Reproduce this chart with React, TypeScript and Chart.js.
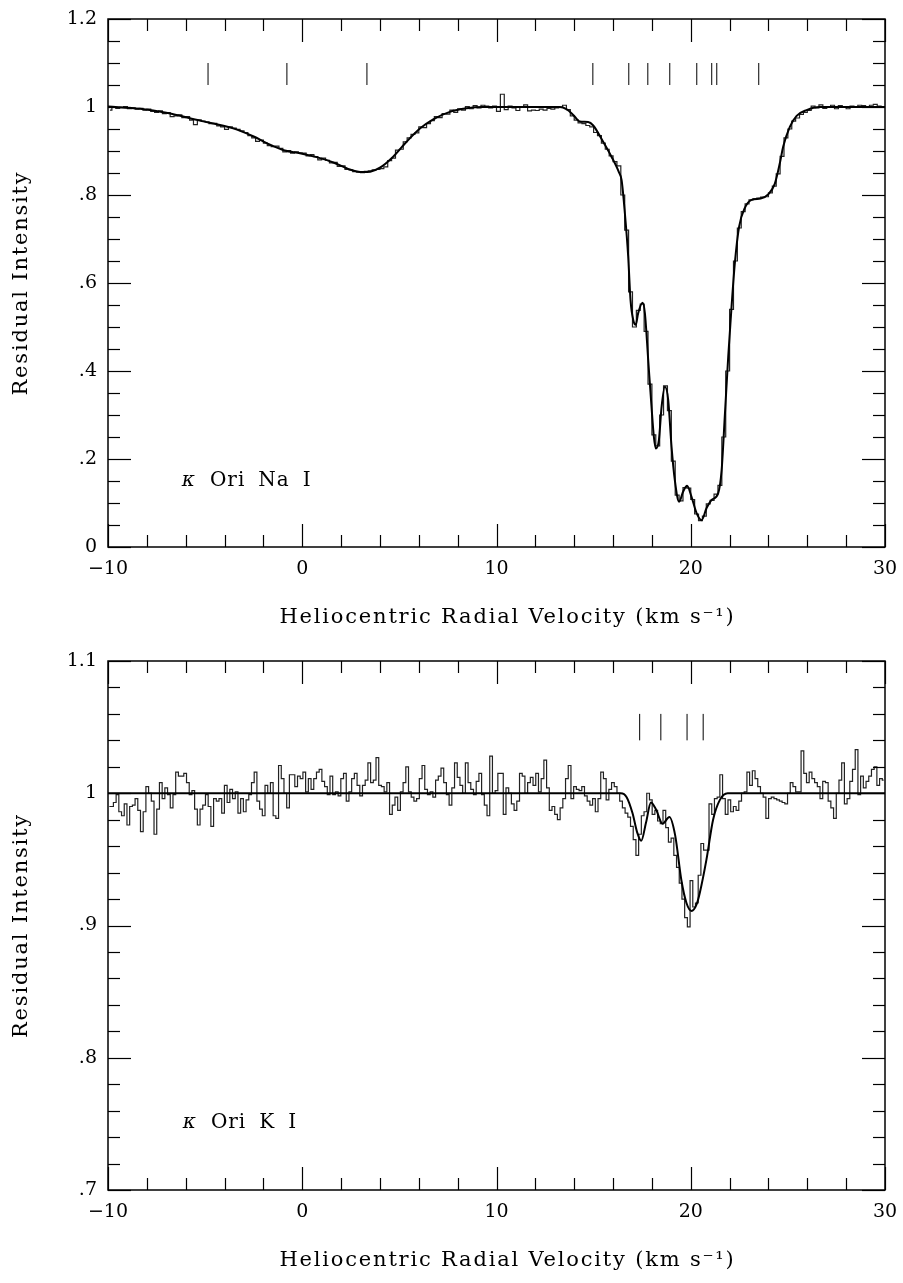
import React, { useEffect, useRef } from "react";
import { Chart, registerables } from "chart.js";

Chart.register(...registerables);

// ---- shared velocity axis -------------------------------------------------
const VEL_MIN = -10;
const VEL_MAX = 30;
const X_MAJOR = [-10, 0, 10, 20, 30];
const X_LABELS = ["\u221210", "0", "10", "20", "30"];
const X_MINOR = [-8, -6, -4, -2, 2, 4, 6, 8, 12, 14, 16, 18, 22, 24, 26, 28];
const X_TITLE = "Heliocentric Radial Velocity (km s\u207B\u00B9)";
const Y_TITLE = "Residual Intensity";

// ---- Na I panel -----------------------------------------------------------
const NA_Y_MAJOR = [0, 0.2, 0.4, 0.6, 0.8, 1.0, 1.2];
const NA_Y_LABELS = ["0", ".2", ".4", ".6", ".8", "1", "1.2"];
const NA_Y_MINOR = [0.05, 0.1, 0.15, 0.25, 0.3, 0.35, 0.45, 0.5, 0.55, 0.65, 0.7, 0.75, 0.85, 0.9, 0.95, 1.05, 1.1, 1.15];

// observed residual intensity, 200 equal velocity bins from -10 to +30 km/s
const NA_OBS = [
  0.993, 0.999, 0.997, 0.999, 1.001, 0.996, 0.998, 0.995, 0.997, 0.993,
  0.995, 0.990, 0.988, 0.991, 0.985, 0.987, 0.978, 0.980, 0.982, 0.976,
  0.978, 0.970, 0.960, 0.971, 0.968, 0.966, 0.962, 0.963, 0.957, 0.955,
  0.949, 0.955, 0.952, 0.949, 0.946, 0.942, 0.935, 0.930, 0.922, 0.925,
  0.918, 0.912, 0.910, 0.911, 0.906, 0.898, 0.901, 0.895, 0.898, 0.896,
  0.895, 0.889, 0.892, 0.887, 0.880, 0.884, 0.879, 0.873, 0.874, 0.865,
  0.866, 0.858, 0.857, 0.853, 0.852, 0.851, 0.854, 0.855, 0.857, 0.858,
  0.860, 0.864, 0.878, 0.884, 0.902, 0.904, 0.921, 0.930, 0.938, 0.941,
  0.955, 0.953, 0.962, 0.969, 0.978, 0.976, 0.985, 0.984, 0.993, 0.988,
  0.996, 0.993, 1.001, 0.996, 1.003, 0.998, 1.004, 1.002, 0.998, 1.002,
  0.990, 1.029, 0.994, 1.002, 0.998, 0.992, 1.001, 1.005, 0.991, 0.993,
  0.992, 0.995, 0.993, 0.997, 0.995, 0.998, 1.000, 1.004, 0.994, 0.980,
  0.970, 0.964, 0.962, 0.958, 0.955, 0.942, 0.935, 0.918, 0.904, 0.889,
  0.876, 0.866, 0.800, 0.720, 0.580, 0.500, 0.538, 0.552, 0.490, 0.370,
  0.255, 0.230, 0.300, 0.366, 0.310, 0.195, 0.118, 0.105, 0.135, 0.134,
  0.108, 0.075, 0.060, 0.070, 0.098, 0.106, 0.120, 0.140, 0.250, 0.400,
  0.540, 0.650, 0.725, 0.762, 0.780, 0.789, 0.791, 0.793, 0.795, 0.796,
  0.805, 0.820, 0.848, 0.888, 0.930, 0.950, 0.968, 0.975, 0.983, 0.988,
  0.992, 1.002, 0.998, 1.005, 0.997, 1.000, 1.004, 0.996, 1.003, 1.001,
  0.996, 1.002, 0.999, 1.004, 1.003, 0.999, 1.004, 1.006, 1.002, 1.001,
];

// multi-component profile fit
const NA_FIT_V = [
  -10, -8.35, -7, -5.27, -3.6, -2.5, -1.83, -0.9, -0.12, 0.74,
  1.6, 2.45, 3.1, 3.5, 4.0, 4.68, 5.37, 6.06, 6.74, 7.6,
  8.46, 9.3, 13.26, 13.6, 13.95, 14.29, 14.72, 14.98, 15.49, 15.92,
  16.3, 16.44, 16.61, 16.78, 16.9, 17.04, 17.17, 17.29, 17.52, 17.64,
  17.81, 17.98, 18.1, 18.2, 18.36, 18.5, 18.67, 18.84, 19.01, 19.18,
  19.4, 19.61, 19.81, 20.04, 20.3, 20.56, 20.81, 21.07, 21.41, 21.59,
  21.76, 21.93, 22.1, 22.27, 22.49, 22.78, 23.13, 23.6, 24.0, 24.33,
  24.6, 24.76, 25.1, 25.45, 25.96, 26.64, 30,
];
const NA_FIT_I = [
  1.001, 0.996, 0.987, 0.969, 0.952, 0.933, 0.918, 0.901, 0.895, 0.886,
  0.874, 0.858, 0.852, 0.853, 0.862, 0.887, 0.921, 0.951, 0.972, 0.989,
  0.997, 1.0, 1.0, 0.995, 0.982, 0.967, 0.966, 0.958, 0.921, 0.887,
  0.852, 0.834, 0.758, 0.660, 0.561, 0.516, 0.505, 0.531, 0.555, 0.531,
  0.425, 0.319, 0.251, 0.224, 0.243, 0.319, 0.364, 0.334, 0.228, 0.152,
  0.103, 0.126, 0.139, 0.114, 0.077, 0.061, 0.088, 0.107, 0.122, 0.175,
  0.303, 0.433, 0.546, 0.645, 0.728, 0.770, 0.789, 0.792, 0.802, 0.826,
  0.875, 0.910, 0.955, 0.980, 0.993, 1.0, 1.0,
];

// velocities of the fitted cloud components
const NA_COMPONENTS = [-4.85, -0.79, 3.33, 14.96, 16.81, 17.79, 18.92, 20.31, 21.08, 21.34, 23.5];
const NA_COMPONENT_SPAN = [1.05, 1.1];

// ---- K I panel ------------------------------------------------------------
const K_Y_MAJOR = [0.7, 0.8, 0.9, 1.0, 1.1];
const K_Y_LABELS = [".7", ".8", ".9", "1", "1.1"];
const K_Y_MINOR = [0.72, 0.74, 0.76, 0.78, 0.82, 0.84, 0.86, 0.88, 0.92, 0.94, 0.96, 0.98, 1.02, 1.04, 1.06, 1.08];

// observed residual intensity, 287 equal velocity bins from -10 to +30 km/s
const K_OBS = [
  0.990, 0.990, 0.993, 0.999, 0.986, 0.983, 0.992, 0.976, 0.990, 0.991,
  0.996, 0.987, 0.971, 0.986, 1.005, 1.000, 0.994, 0.969, 0.988, 1.008,
  0.996, 1.004, 0.999, 0.989, 0.999, 1.016, 1.013, 1.013, 1.015, 1.008,
  0.999, 1.002, 0.988, 0.976, 0.988, 0.991, 0.999, 0.990, 0.975, 0.996,
  0.994, 0.996, 0.985, 1.006, 0.993, 1.003, 0.996, 1.001, 0.985, 0.996,
  0.986, 0.995, 0.999, 1.008, 1.016, 0.994, 0.988, 0.983, 1.006, 1.000,
  1.008, 0.983, 0.981, 1.021, 1.011, 1.000, 0.989, 1.014, 1.014, 1.005,
  1.013, 1.011,
  1.016, 1.001, 1.011, 1.003, 1.011, 1.016, 1.018, 1.009, 1.005, 0.999,
  1.013, 0.999, 1.001, 0.998, 1.011, 1.015, 0.994, 1.001, 1.011, 1.015,
  1.006, 0.998, 1.006, 1.010, 1.023, 1.008, 1.010, 1.027, 1.006, 1.005,
  1.001, 1.008, 0.984, 0.991, 0.997, 0.987, 1.001, 1.008, 1.020, 1.001,
  0.997, 0.994, 0.996, 1.011, 1.021, 1.003, 0.999, 1.001, 0.997, 1.010,
  1.013, 1.019, 1.008, 0.999, 0.991, 1.004, 1.023, 1.012, 1.006, 1.000,
  1.023, 1.008, 1.003, 0.999, 1.009, 1.015, 0.999, 0.991, 0.983, 1.028,
  1.000, 1.002,
  1.015, 1.015, 0.984, 1.004, 1.000, 0.992, 0.987, 0.994, 1.015, 1.013,
  1.000, 1.008, 1.012, 1.006, 1.015, 1.001, 1.011, 1.025, 1.004, 0.987,
  0.990, 0.984, 0.980, 0.989, 0.996, 1.011, 1.021, 0.996, 1.005, 1.003,
  1.002, 1.005, 0.998, 0.994, 0.991, 0.996, 0.986, 0.996, 1.016, 1.011,
  0.995, 1.003, 1.008, 1.005, 1.000, 0.994, 0.989, 0.985, 0.982, 0.975,
  0.965, 0.953, 0.969, 0.983, 0.986, 1.000, 0.995, 0.984, 0.987, 0.979,
  0.977, 0.987, 0.974, 0.963, 0.966, 0.953, 0.944, 0.932, 0.920, 0.906,
  0.899, 0.934, 0.914, 0.917, 0.938, 0.962, 0.957, 0.957, 0.992, 0.984,
  0.996, 0.997, 1.014, 0.996, 0.984, 0.995, 0.986, 0.990, 0.987, 0.994,
  1.000, 1.001, 1.016, 1.006, 1.017, 1.011, 1.005, 1.000, 0.997, 0.981,
  0.996, 0.997, 0.996, 0.995, 0.994, 0.993, 0.992, 1.000, 1.008, 1.005,
  1.001, 1.001, 1.032, 1.015, 1.008, 1.016, 1.011, 1.008, 1.005, 0.996,
  1.009, 1.008, 0.994, 0.989, 0.981, 1.000, 1.010, 1.023, 0.992, 0.996,
  1.009, 1.018, 1.033, 0.999, 1.013, 1.004, 1.009, 1.013, 1.018, 1.020,
  1.006, 1.011, 1.010,
];

const K_FIT_V = [-10, 16.4, 16.7, 17.0, 17.25, 17.45, 17.7, 17.95, 18.2, 18.55, 18.9, 19.2, 19.52, 19.78, 20.04, 20.3, 20.47, 20.81, 21.15, 21.5, 21.9, 30];
const K_FIT_I = [1.0, 1.0, 0.997, 0.985, 0.970, 0.964, 0.978, 0.993, 0.988, 0.977, 0.982, 0.968, 0.934, 0.917, 0.911, 0.916, 0.925, 0.950, 0.980, 0.995, 1.0, 1.0];

const K_COMPONENTS = [17.37, 18.46, 19.81, 20.64];
const K_COMPONENT_SPAN = [1.04, 1.06];

// ---- styling ----------------------------------------------------------------
const FONT_FAMILY = '"DejaVu Serif", "Liberation Serif", serif';
const TICK_FONT_SIZE = 19;
const TITLE_FONT_SIZE = 21;
const TITLE_SPACING = "1.8px";
const LABEL_FONT_SIZE = 20;
const INK = "#000";
const CANVAS_W = 903;
const AXIS_W = 108;
const MAJOR_LEN = 23;
const MINOR_LEN = 12;

type Panel = {
  height: number;
  padTop: number;
  xAxisH: number;
  yMin: number;
  yMax: number;
  yMajor: number[];
  yLabels: string[];
  yMinor: number[];
  obs: number[];
  fitV: number[];
  fitI: number[];
  components: number[];
  span: number[];
  species: string[];
  labelV: number;
  labelI: number;
};

const NA_PANEL: Panel = {
  height: 641, padTop: 19, xAxisH: 94, yMin: 0, yMax: 1.2,
  yMajor: NA_Y_MAJOR, yLabels: NA_Y_LABELS, yMinor: NA_Y_MINOR,
  obs: NA_OBS, fitV: NA_FIT_V, fitI: NA_FIT_I,
  components: NA_COMPONENTS, span: NA_COMPONENT_SPAN,
  species: ["Ori", "Na", "I"], labelV: -6.2, labelI: 0.15,
};

const K_PANEL: Panel = {
  height: 642, padTop: 20, xAxisH: 93, yMin: 0.7, yMax: 1.1,
  yMajor: K_Y_MAJOR, yLabels: K_Y_LABELS, yMinor: K_Y_MINOR,
  obs: K_OBS, fitV: K_FIT_V, fitI: K_FIT_I,
  components: K_COMPONENTS, span: K_COMPONENT_SPAN,
  species: ["Ori", "K", "I"], labelV: -6.15, labelI: 0.751,
};

// inward tick marks on all four sides plus the box frame
const frameTicks = {
  id: "frameTicks",
  afterDraw(chart: any, _args: any, opts: any) {
    const { ctx, chartArea, scales } = chart;
    const { left, right, top, bottom } = chartArea;
    const xs = scales.x;
    const ys = scales.y;
    ctx.save();
    ctx.strokeStyle = INK;
    ctx.lineWidth = 1.2;
    const seg = (x1: number, y1: number, x2: number, y2: number) => {
      ctx.beginPath();
      ctx.moveTo(x1, y1);
      ctx.lineTo(x2, y2);
      ctx.stroke();
    };
    const xTicks = (vals: number[], len: number) =>
      vals.forEach((v) => {
        const px = Math.round(xs.getPixelForValue(v)) + 0.5;
        seg(px, bottom, px, bottom - len);
        seg(px, top, px, top + len);
      });
    const yTicks = (vals: number[], len: number) =>
      vals.forEach((v) => {
        const py = Math.round(ys.getPixelForValue(v)) + 0.5;
        seg(left, py, left + len, py);
        seg(right, py, right - len, py);
      });
    xTicks(opts.xMajor, MAJOR_LEN);
    xTicks(opts.xMinor, MINOR_LEN);
    yTicks(opts.yMajor, MAJOR_LEN);
    yTicks(opts.yMinor, MINOR_LEN);
    ctx.lineWidth = 1.5;
    ctx.strokeRect(left, top, right - left, bottom - top);
    ctx.restore();
  },
};

// axis titles, drawn with the wide letter spacing of the plotting font
const axisTitles = {
  id: "axisTitles",
  afterDraw(chart: any, _args: any, opts: any) {
    const { ctx, chartArea } = chart;
    const { left, right, top, bottom } = chartArea;
    ctx.save();
    ctx.fillStyle = INK;
    ctx.font = `${TITLE_FONT_SIZE}px ${FONT_FAMILY}`;
    (ctx as any).letterSpacing = TITLE_SPACING;
    ctx.textAlign = "center";
    ctx.textBaseline = "middle";
    ctx.fillText(opts.x, (left + right) / 2 + opts.xShift, bottom + opts.xOffset);
    ctx.translate(opts.yCenter, (top + bottom) / 2);
    ctx.rotate(-Math.PI / 2);
    ctx.fillText(opts.y, 0, 0);
    ctx.restore();
  },
};

// "κ Ori Na I" style species label placed in data coordinates
const speciesLabel = {
  id: "speciesLabel",
  afterDatasetsDraw(chart: any, _args: any, opts: any) {
    const { ctx, scales } = chart;
    let px = scales.x.getPixelForValue(opts.v);
    const py = scales.y.getPixelForValue(opts.i);
    ctx.save();
    ctx.fillStyle = INK;
    ctx.textBaseline = "middle";
    ctx.textAlign = "left";
    ctx.font = `italic ${LABEL_FONT_SIZE}px ${FONT_FAMILY}`;
    ctx.fillText("\u03BA", px, py);
    px += ctx.measureText("\u03BA").width + 15;
    ctx.font = `${LABEL_FONT_SIZE}px ${FONT_FAMILY}`;
    (ctx as any).letterSpacing = "1px";
    opts.words.forEach((w: string) => {
      ctx.fillText(w, px, py);
      px += ctx.measureText(w).width + 13;
    });
    ctx.restore();
  },
};

function labelFor(values: number[], labels: string[]) {
  return (value: number) => {
    const i = values.findIndex((m) => Math.abs(m - value) < 1e-6);
    return i >= 0 ? labels[i] : "";
  };
}

function buildConfig(p: Panel): any {
  const step = (VEL_MAX - VEL_MIN) / p.obs.length;
  const obsPts = p.obs.map((y, i) => ({ x: VEL_MIN + (i + 0.5) * step, y }));
  const fitPts = p.fitV.map((x, i) => ({ x, y: p.fitI[i] }));
  const compPts: { x: number; y: number | null }[] = [];
  p.components.forEach((v) => {
    compPts.push({ x: v, y: p.span[0] }, { x: v, y: p.span[1] }, { x: v, y: null });
  });
  const font = { family: FONT_FAMILY, size: TICK_FONT_SIZE };

  return {
    type: "line",
    data: {
      datasets: [
        {
          label: "fit",
          data: fitPts,
          borderColor: INK,
          borderWidth: 2,
          pointRadius: 0,
          cubicInterpolationMode: "monotone",
          fill: false,
        },
        {
          label: "observed",
          data: obsPts,
          borderColor: "#222",
          borderWidth: 1.2,
          pointRadius: 0,
          stepped: "middle",
          fill: false,
        },
        {
          label: "components",
          data: compPts,
          borderColor: INK,
          borderWidth: 1,
          pointRadius: 0,
          spanGaps: false,
          fill: false,
        },
      ],
    },
    options: {
      responsive: false,
      animation: false,
      events: [],
      layout: { padding: { top: p.padTop, right: 18, left: 0, bottom: 0 } },
      plugins: {
        legend: { display: false },
        tooltip: { enabled: false },
        frameTicks: { xMajor: X_MAJOR, xMinor: X_MINOR, yMajor: p.yMajor, yMinor: p.yMinor },
        axisTitles: { x: X_TITLE, y: Y_TITLE, xOffset: 71, xShift: 11, yCenter: 22 },
        speciesLabel: { v: p.labelV, i: p.labelI, words: p.species },
      },
      scales: {
        x: {
          type: "linear",
          min: VEL_MIN,
          max: VEL_MAX,
          grid: { display: false, drawTicks: false },
          border: { display: false },
          afterBuildTicks: (s: any) => {
            s.ticks = X_MAJOR.map((value) => ({ value }));
          },
          afterFit: (s: any) => {
            s.height = p.xAxisH;
            s.paddingLeft = 0;
            s.paddingRight = 0;
          },
          ticks: {
            callback: labelFor(X_MAJOR, X_LABELS),
            font,
            color: INK,
            padding: 11,
            maxRotation: 0,
            autoSkip: false,
          },
        },
        y: {
          type: "linear",
          min: p.yMin,
          max: p.yMax,
          grid: { display: false, drawTicks: false },
          border: { display: false },
          afterBuildTicks: (s: any) => {
            s.ticks = p.yMajor.map((value) => ({ value }));
          },
          afterFit: (s: any) => {
            s.width = AXIS_W;
            s.paddingTop = 0;
            s.paddingBottom = 0;
          },
          ticks: {
            callback: labelFor(p.yMajor, p.yLabels),
            font,
            color: INK,
            padding: 11,
            autoSkip: false,
          },
        },
      },
    },
    plugins: [frameTicks, axisTitles, speciesLabel],
  };
}

function SpectrumPanel({ panel }: { panel: Panel }) {
  const ref = useRef<HTMLCanvasElement | null>(null);
  useEffect(() => {
    if (!ref.current) return;
    const chart = new Chart(ref.current, buildConfig(panel));
    return () => chart.destroy();
  }, [panel]);
  return (
    <canvas
      ref={ref}
      width={CANVAS_W}
      height={panel.height}
      style={{ display: "block", width: CANVAS_W, height: panel.height }}
    />
  );
}

export default function App() {
  return (
    <div
      style={{
        position: "absolute",
        left: 0,
        top: 0,
        width: CANVAS_W,
        height: 1283,
        background: "#fff",
      }}
    >
      <SpectrumPanel panel={NA_PANEL} />
      <SpectrumPanel panel={K_PANEL} />
    </div>
  );
}
